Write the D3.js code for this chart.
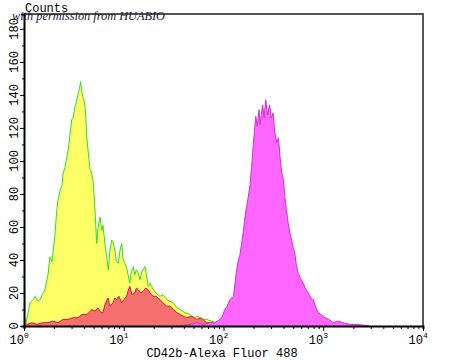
<!DOCTYPE html>
<html>
<head>
<meta charset="utf-8">
<script src="https://cdn.jsdelivr.net/npm/d3@7"></script>
<style>
  html, body { margin: 0; padding: 0; background: #fff; }
  svg { display: block; }
</style>
</head>
<body>
<svg id="chart" width="450" height="360"></svg>
<script>
// ---- data (fluorescence intensity, event count) ----
const controlX = [1.0,1.02,1.05,1.10,1.15,1.23,1.29,1.38,1.45,1.55,1.62,1.74,1.82,1.91,1.97,2.04,2.13,2.19,2.30,2.40,2.46,2.57,2.67,2.78,2.89,3.01,3.10,3.25,3.36,3.50,3.60,3.70,3.77,3.88,3.99,4.09,4.18,4.25,4.38,4.58,4.75,4.95,5.15,5.36,5.51,5.78,6.01,6.19,6.47,6.71,7.00,7.28,7.57,7.80,8.14,8.46,8.82,9.17,9.54,9.81,10.3,10.8,11.5,11.9,12.5,12.9,13.4,14.0,14.5,15.2,16.3,16.9,17.6,18.3,19.8,21.0,23.1,24.7,27.0,29.1,31.4,34.2,36.6,41.1,46.1,49.5,55.5,60.9,67.9,75.0,85.5,96.6,116,146];
const controlY = [93,5,2,8,14,16,18,15,16,20,22,31,42,39,46,55,70,76,82,85,92,96,101,107,116,125,126,133,136,141,144,148,143,139,137,133,125,115,107,95,93,87,70,50,59,66,58,61,50,43,34,46,52,51,46,39,38,46,50,41,38,34,26,33,36,31,34,32,28,33,36,31,24,26,22,20,18,19,16,15,14,11,10,8,7,5,6,4,4,3,2,1,1,0];

const negativeX = [1.0,1.07,1.20,1.35,1.52,1.74,1.95,2.19,2.46,2.76,3.10,3.48,3.81,4.25,4.49,4.77,5.15,5.51,5.92,6.19,6.47,6.95,7.28,7.80,8.14,8.45,8.94,9.54,10.05,10.7,11.0,11.5,12.1,12.9,13.4,14.0,14.9,15.6,16.7,17.6,18.8,19.8,21.0,23.1,24.7,27.0,29.1,31.4,34.2,36.6,42.7,48.3,53.8,59.3,67.9,76.6,85.5,96.6,116];
const negativeY = [2,1,2,1,2,2,3,2,4,4,5,5,7,7,8,10,9,11,8,8,13,17,12,14,17,16,18,14,16,18,21,24,19,20,23,22,20,21,23,22,19,18,18,16,14,12,12,10,8,7,5,6,4,5,2,2,1,1,0];

const positiveX = [36.6,46.1,54.5,62.0,73.0,82.0,92.2,97.6,103,109,116,126,134,141,146,152,158,164,170,177,184,191,199,204,211,218,227,233,239,247,255,265,277,290,301,314,326,342,356,368,383,400,413,428,446,464,482,502,519,537,561,590,629,671,708,752,793,845,891,948,1039,1140,1250,1400,1570,1840,2200,2900];
const positiveY = [0,1,2,1,2,2,4,6,10,12,16,18,32,40,43,50,57,66,72,78,85,96,110,118,127,121,131,122,128,134,126,137,128,134,126,129,118,111,114,103,93,88,78,70,62,56,52,47,44,37,32,29,26,22,20,17,16,11,8,7,5,4,2,3,2,1,1,0];

const yTicks = [0,20,40,60,80,100,120,140,160,180];
const xTicks = [1,10,100,1000,10000];
const xTickExp = ["0","1","2","3","4"];
const xLabel = "CD42b-Alexa Fluor 488";
const yLabel = "Counts";
const watermark = "with permission from HUABIO";

// ---- layout ----
const svg = d3.select("#chart");
const L = 24, R = 423, T = 14, B = 326;
const x = d3.scaleLog().domain([1, 10000]).range([L, R]);
const y = d3.scaleLinear().domain([0, 189]).range([B, T]);

const defs = svg.append("defs");
defs.append("clipPath").attr("id", "plotclip")
  .append("rect").attr("x", L).attr("y", T).attr("width", R - L).attr("height", B - T);

const plot = svg.append("g").attr("clip-path", "url(#plotclip)");

function drawSeries(xs, ys, fill, stroke) {
  const pts = xs.map((v, i) => [v, ys[i]]);
  const area = d3.area().x(d => x(d[0])).y0(y(0)).y1(d => y(d[1]));
  const line = d3.line().x(d => x(d[0])).y(d => y(d[1]));
  plot.append("path").datum(pts).attr("d", area).attr("fill", fill);
  plot.append("path").datum(pts).attr("d", line)
    .attr("fill", "none").attr("stroke", stroke).attr("stroke-width", 1)
    .attr("stroke-linejoin", "round");
}
drawSeries(controlX, controlY, "#ffff66", "#33dd22");
drawSeries(negativeX, negativeY, "#f77070", "#dd1144");
drawSeries(positiveX, positiveY, "#ff66ff", "#cc33cc");

// frame: top and right grey
svg.append("line").attr("x1", L).attr("x2", R + 1).attr("y1", T).attr("y2", T)
  .attr("stroke", "#555").attr("stroke-width", 2);
svg.append("line").attr("x1", R).attr("x2", R).attr("y1", T).attr("y2", B)
  .attr("stroke", "#555").attr("stroke-width", 2);

// y axis
const yAxis = d3.axisLeft(y).tickValues(d3.range(0, 190, 10)).tickFormat("")
  .tickSizeOuter(0).tickSize(3);
const gy = svg.append("g").attr("transform", `translate(${L},0)`).call(yAxis);
gy.select(".domain").attr("stroke", "#000").attr("stroke-width", 2);
gy.selectAll(".tick line").attr("stroke", "#000")
  .attr("x2", d => d % 20 === 0 ? -4 : -2);

svg.append("g").selectAll("text").data(yTicks).join("text")
  .attr("transform", d => `translate(18,${y(d)}) rotate(-90)`)
  .attr("text-anchor", "middle")
  .attr("font-family", "Liberation Mono, DejaVu Sans Mono, monospace")
  .attr("font-size", 12).attr("fill", "#000")
  .text(d => d);

// x axis
const minor = [];
for (let e = 0; e < 4; e++) for (let m = 1; m <= 9; m++) minor.push(m * Math.pow(10, e));
minor.push(10000);
const xAxis = d3.axisBottom(x).tickValues(minor).tickFormat("").tickSizeOuter(0).tickSize(3);
const gx = svg.append("g").attr("transform", `translate(0,${B})`).call(xAxis);
gx.select(".domain").attr("stroke", "#000").attr("stroke-width", 2);
gx.selectAll(".tick line").attr("stroke", "#000")
  .attr("y2", d => xTicks.includes(d) ? 5 : 3);

const xl = svg.append("g").selectAll("g").data(xTicks).join("g")
  .attr("transform", d => `translate(${x(d)},344)`);
xl.append("text").attr("text-anchor", "end")
  .attr("font-family", "Liberation Mono, DejaVu Sans Mono, monospace")
  .attr("font-size", 12).attr("fill", "#000").text("10");
xl.append("text").attr("x", 0).attr("y", -6)
  .attr("font-family", "Liberation Mono, DejaVu Sans Mono, monospace")
  .attr("font-size", 8).attr("fill", "#000").text((d, i) => xTickExp[i]);

svg.append("text").attr("x", 222).attr("y", 357).attr("text-anchor", "middle")
  .attr("font-family", "Liberation Mono, DejaVu Sans Mono, monospace")
  .attr("font-size", 12).attr("fill", "#000").text(xLabel);

svg.append("text").attr("x", 25).attr("y", 12)
  .attr("font-family", "Liberation Mono, DejaVu Sans Mono, monospace")
  .attr("font-size", 12).attr("fill", "#000").text(yLabel);

svg.append("text").attr("x", 12).attr("y", 20)
  .attr("font-family", "Liberation Serif, serif").attr("font-style", "italic")
  .attr("font-size", 12).attr("fill", "#1a1a33")
  .attr("textLength", 153).attr("lengthAdjust", "spacingAndGlyphs")
  .text(watermark);
</script>
</body>
</html>
